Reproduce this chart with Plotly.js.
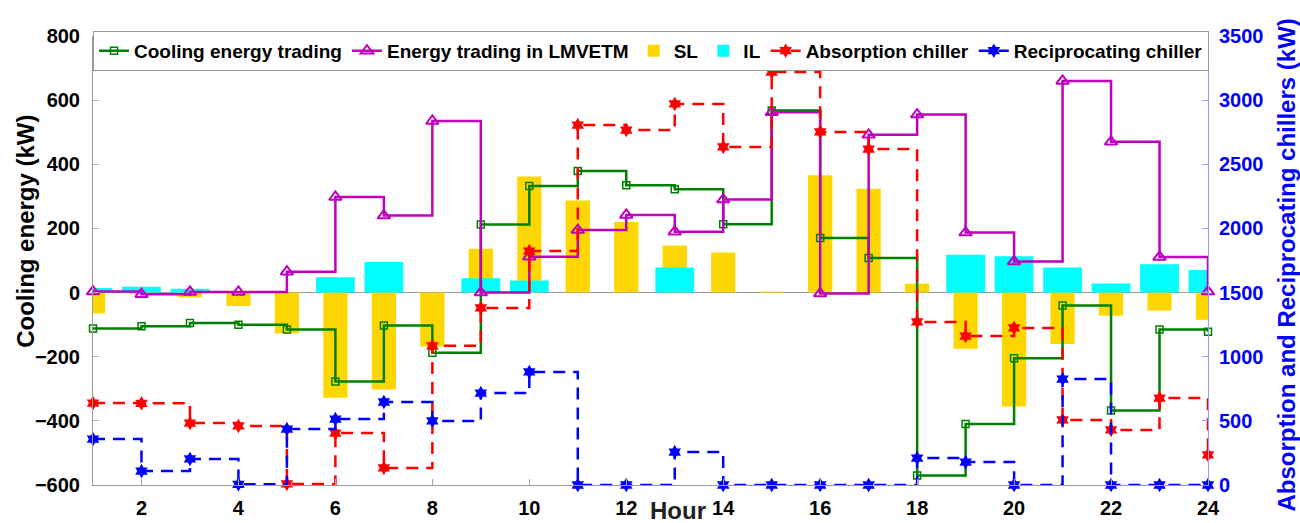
<!DOCTYPE html>
<html>
<head>
<meta charset="utf-8">
<script src="https://cdn.plot.ly/plotly-3.0.1.min.js"></script>
<style>html,body{margin:0;padding:0;background:#fff;}#chart{width:1300px;height:523px;}</style>
</head>
<body>
<div id="chart"></div>
<script>
const hours = [1,2,3,4,5,6,7,8,9,10,11,12,13,14,15,16,17,18,19,20,21,22,23,24];
const coolingTrading = [-112,-105,-95,-100,-115,-277,-103,-188,212,332,379,335,322,213,568,170,108,-570,-410,-205,-40,-368,-115,-122];
const lmvetmTrading = [3,-5,2,2,65,298,240,535,0,112,195,242,190,290,562,-3,492,555,187,97,660,470,111,3];
const SL = [-65,-5,-15,-42,-128,-328,-302,-168,137,362,287,220,147,125,3,366,324,28,-175,-355,-160,-72,-56,-85];
const IL = [14,18,12,0,0,48,95,0,45,38,0,0,78,0,0,0,0,0,118,113,78,28,88,70];
const absorption = [639,637,483,460,8,405,133,1085,1380,1824,2806,2767,2970,2635,3219,2752,2619,1271,1161,1224,507,429,678,234];
const reciprocating = [358,109,203,5,436,514,647,499,717,881,0,0,257,0,0,0,0,210,179,0,826,0,0,0];

const leftTitle = 'Cooling energy (kW)';
const rightTitle = 'Absorption and Reciprocating chillers (kW)';
const xTitle = 'Hour';

const FONT = 'Liberation Sans, Arial, Helvetica, sans-serif';

const traces = [
  {x: hours, y: coolingTrading, name: 'Cooling energy trading', type: 'scatter', mode: 'lines+markers',
   line: {shape: 'hv', color: '#008000', width: 2.5},
   marker: {symbol: 'square-open', size: 7, color: '#008000', line: {width: 1.5, color: '#008000'}},
   cliponaxis: false},
  {x: hours, y: lmvetmTrading, name: 'Energy trading in LMVETM', type: 'scatter', mode: 'lines+markers',
   line: {shape: 'hv', color: '#BF00BF', width: 2.5},
   marker: {symbol: 'triangle-up-open', size: 11, color: '#BF00BF', line: {width: 2, color: '#BF00BF'}},
   cliponaxis: false},
  {x: hours, y: SL, name: 'SL', type: 'bar', width: 0.5, marker: {color: '#FFD700', line: {width: 0}}},
  {x: hours, y: IL, name: 'IL', type: 'bar', width: 0.8, marker: {color: '#00FFFF', line: {width: 0}}},
  {x: hours, y: absorption, name: 'Absorption chiller', type: 'scatter', mode: 'lines+markers', yaxis: 'y2',
   line: {shape: 'hv', color: '#FF0000', width: 2.5, dash: '12px,8px'},
   marker: {symbol: 'hexagram', size: 11, color: '#FF0000'},
   cliponaxis: false},
  {x: hours, y: reciprocating, name: 'Reciprocating chiller', type: 'scatter', mode: 'lines+markers', yaxis: 'y2',
   line: {shape: 'hv', color: '#0000FF', width: 2.5, dash: '12px,8px'},
   marker: {symbol: 'hexagram', size: 11, color: '#0000FF'},
   cliponaxis: false}
];

const layout = {
  width: 1300, height: 523,
  margin: {l: 93, r: 92, t: 36, b: 38},
  paper_bgcolor: '#fff', plot_bgcolor: '#fff',
  font: {family: FONT, size: 20, color: '#000', weight: 'bold'},
  barmode: 'overlay',
  showlegend: true,
  legend: {x: 0, y: 1.0115, xanchor: 'left', yanchor: 'top', orientation: 'h',
           bgcolor: '#fff', bordercolor: '#999', borderwidth: 1,
           font: {family: FONT, size: 19, color: '#000', weight: 'bold'},
           traceorder: 'normal', tracegroupgap: 0},
  xaxis: {range: [1, 24], tick0: 2, dtick: 2, ticks: 'inside', ticklen: 6, tickcolor: '#aaa',
          showline: true, linecolor: '#999', linewidth: 1, showgrid: false, zeroline: false,
          ticklabelstandoff: 5,
          tickfont: {family: FONT, size: 20, color: '#000', weight: 'bold'}},
  yaxis: {range: [-600, 800], tick0: -600, dtick: 200, ticks: 'inside', ticklen: 6, tickcolor: '#aaa',
          showline: true, linecolor: '#999', linewidth: 1, showgrid: false,
          zeroline: true, zerolinecolor: '#999', zerolinewidth: 1.5,
          ticklabelstandoff: 8,
          tickfont: {family: FONT, size: 20, color: '#000', weight: 'bold'}},
  yaxis2: {overlaying: 'y', side: 'right', range: [0, 3500], tick0: 0, dtick: 500, ticks: 'inside', ticklen: 6,
           tickcolor: '#9999ff', showline: true, linecolor: '#9999ff', linewidth: 1, showgrid: false, zeroline: false,
           ticklabelstandoff: 6,
           tickfont: {family: FONT, size: 20, color: '#0000FF', weight: 'bold'}},
  annotations: [
    {text: xTitle, xref: 'paper', yref: 'paper', x: 0.525, y: -0.057, xanchor: 'center', yanchor: 'middle',
     showarrow: false, font: {family: FONT, size: 24, color: '#222', weight: 'bold'}},
    {text: leftTitle, xref: 'paper', yref: 'paper', x: -0.0605, y: 0.565, xanchor: 'center', yanchor: 'middle',
     textangle: -90, showarrow: false, font: {family: FONT, size: 24, color: '#000', weight: 'bold'}},
    {text: rightTitle, xref: 'paper', yref: 'paper', x: 1.0705, y: 0.49, xanchor: 'center', yanchor: 'middle',
     textangle: -90, showarrow: false, font: {family: FONT, size: 24, color: '#0000FF', weight: 'bold'}}
  ]
};

Plotly.newPlot('chart', traces, layout, {displayModeBar: false, staticPlot: true});
</script>
</body>
</html>
